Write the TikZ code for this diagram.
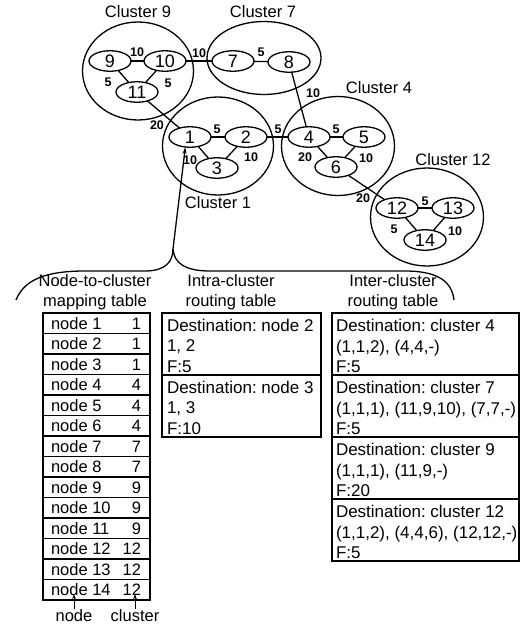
\documentclass[tikz,border=0pt]{standalone}
\usepackage{fontspec}
\setmainfont{Liberation Sans}
\usetikzlibrary{shapes.geometric,arrows.meta}
\frenchspacing

\begin{document}
\begin{tikzpicture}[x=1pt,y=-1pt,
  every node/.style={inner sep=0pt, outer sep=0pt},
  clus/.style={draw, ellipse, line width=1.3pt},
  vert/.style={draw, ellipse, line width=1.3pt, minimum width=42pt, minimum height=20.5pt,
               font=\fontsize{18}{18}\selectfont},
  wt/.style={font=\bfseries\fontsize{12.5}{12.5}\selectfont},
  clab/.style={font=\fontsize{16.5}{16.5}\selectfont},
  link/.style={line width=1.3pt},
  head/.style={align=center, font=\fontsize{16.5}{19.5}\selectfont},
  cell/.style={anchor=base west, font=\fontsize{17}{17}\selectfont},
  mcell/.style={font=\fontsize{16.5}{16.5}\selectfont},
  frame/.style={line width=1.8pt},
  rule/.style={line width=1.1pt},
  tip/.style={-{Stealth[length=7pt,width=4pt]}},
]
\useasboundingbox (0,0) rectangle (528,626);

% ---------- clusters ----------
\node[clus, minimum width=111pt, minimum height=98pt] (c9)  at (138,71)  {};
\node[clus, minimum width=114pt, minimum height=73pt] (c7)  at (264,58)  {};
\node[clus, minimum width=111pt, minimum height=98pt] (c1)  at (218,146) {};
\node[clus, minimum width=113pt, minimum height=99pt] (c4)  at (338,146) {};
\node[clus, minimum width=113pt, minimum height=98pt] (c12) at (427,217) {};

\node[clab] (lc9)  at (138,12)  {Cluster 9};
\node[clab] (lc7)  at (263,12)  {Cluster 7};
\node[clab] (lc1)  at (218,203) {Cluster 1};
\node[clab] (lc4)  at (379,88)  {Cluster 4};
\node[clab] (lc12) at (453,160) {Cluster 12};

% ---------- network nodes ----------
\node[vert] (n9)  at (110,61)  {9};
\node[vert] (n10) at (165,61)  {10};
\node[vert] (n11) at (137,92)  {11};
\node[vert] (n7)  at (233,61)  {7};
\node[vert] (n8)  at (289,62)  {8};
\node[vert] (n1)  at (190,137) {1};
\node[vert] (n2)  at (246,137) {2};
\node[vert] (n3)  at (217,168) {3};
\node[vert] (n4)  at (309,137) {4};
\node[vert] (n5)  at (364,137) {5};
\node[vert] (n6)  at (336,167) {6};
\node[vert] (n12) at (397,208) {12};
\node[vert] (n13) at (453,208) {13};
\node[vert] (n14) at (425,240) {14};

% ---------- links ----------
\draw[link] (n9) -- (n10);
\draw[link] (n9) -- (n11);
\draw[link] (n10) -- (n11);
\draw[link] (n10) -- (n7);
\draw[link] (n7) -- (n8);
\draw[link] (n11) -- (n1);
\draw[link] (n1) -- (n2);
\draw[link] (n1) -- (n3);
\draw[link] (n2) -- (n3);
\draw[link] (n2) -- (n4);
\draw[link] (n8) -- (n4);
\draw[link] (n4) -- (n5);
\draw[link] (n4) -- (n6);
\draw[link] (n5) -- (n6);
\draw[link] (n6) -- (n12);
\draw[link] (n12) -- (n13);
\draw[link] (n12) -- (n14);
\draw[link] (n13) -- (n14);

% ---------- link weights ----------
\node[wt] (w9-10)  at (137,52)  {10};
\node[wt] (w9-11)  at (108,82)  {5};
\node[wt] (w10-11) at (168,83)  {5};
\node[wt] (w10-7)  at (199,53)  {10};
\node[wt] (w7-8)   at (261,52)  {5};
\node[wt] (w11-1)  at (157,125) {20};
\node[wt] (w1-2)   at (217,129) {5};
\node[wt] (w1-3)   at (190,160) {10};
\node[wt] (w2-3)   at (251,157) {10};
\node[wt] (w2-4)   at (278,129) {5};
\node[wt] (w8-4)   at (313,93)  {10};
\node[wt] (w4-5)   at (336,129) {5};
\node[wt] (w4-6)   at (305,157) {20};
\node[wt] (w5-6)   at (366,158) {10};
\node[wt] (w6-12)  at (363,198) {20};
\node[wt] (w12-13) at (425,201) {5};
\node[wt] (w12-14) at (394,229) {5};
\node[wt] (w13-14) at (455,231) {10};

% ---------- brace from node 1 to the three tables ----------
\coordinate (bj) at (173,249);
\coordinate (bl) at (16,300);
\coordinate (br) at (454,300);
\draw[link] (bl) .. controls (24,280) and (45,271) .. (85,271) -- (145,271)
            .. controls (165,271) and (173,262) .. (bj);
\draw[link] (bj) .. controls (174,263) and (185,271) .. (210,271) -- (405,271)
            .. controls (440,271) and (452,283) .. (br);
\draw[link, tip] (bj) -- (n1.245);

\node[head] (h1) at (95,292)  {Node-to-cluster\\mapping table};
\node[head] (h2) at (231,292) {Intra-cluster\\routing table};
\node[head] (h3) at (393,292) {Inter-cluster\\routing table};

% ---------- node-to-cluster mapping table ----------
\foreach \k in {1,...,13}
  \draw[rule] (43,{313+20.5*\k}) -- (150,{313+20.5*\k});
\draw[frame] (43,313) rectangle (150,600);
\foreach \i/\c in {1/1,2/1,3/1,4/4,5/4,6/4,7/7,8/7,9/9,10/9,11/9,12/12,13/12,14/12} {
  \node[mcell, anchor=base west] (m\i) at (51,{313+20.5*\i-4.5}) {node \i};
  \node[mcell, anchor=base east] (k\i) at (141,{313+20.5*\i-4.5}) {\c};
}
\node[mcell, anchor=base] (lnode) at (74,621)  {node};
\node[mcell, anchor=base] (lclus) at (135,621) {cluster};
\coordinate (tn) at (74,594);
\coordinate (tc) at (135,594);
\draw[line width=1pt, -{Stealth[length=5pt,width=3.5pt]}] (lnode.north) -- (tn);
\draw[line width=1pt, -{Stealth[length=5pt,width=3.5pt]}] (lclus.north) -- (tc);

% ---------- intra-cluster routing table ----------
\draw[rule] (162,375) -- (321,375);
\draw[frame] (162,313) rectangle (321,437);
\foreach \b/\t in {0/{Destination: node 2,{1, 2},F:5}, 1/{Destination: node 3,{1, 3},F:10}} {
  \foreach \line [count=\l] in \t
    \node[cell] (a\b-\l) at (167,{313+62*\b+20.5*\l-2.5}) {\line};
}

% ---------- inter-cluster routing table ----------
\foreach \k in {1,2,3}
  \draw[rule] (332,{313+62*\k}) -- (519,{313+62*\k});
\draw[frame] (332,313) rectangle (519,561);
\node[cell] (e1-1) at (336,331) {Destination: cluster 4};
\node[cell] (e1-2) at (336,352) {(1,1,2), (4,4,-)};
\node[cell] (e1-3) at (336,372) {F:5};
\node[cell] (e2-1) at (336,393) {Destination: cluster 7};
\node[cell] (e2-2) at (336,414) {(1,1,1), (11,9,10), (7,7,-)};
\node[cell] (e2-3) at (336,434) {F:5};
\node[cell] (e3-1) at (336,455) {Destination: cluster 9};
\node[cell] (e3-2) at (336,476) {(1,1,1), (11,9,-)};
\node[cell] (e3-3) at (336,496) {F:20};
\node[cell] (e4-1) at (336,517) {Destination: cluster 12};
\node[cell] (e4-2) at (336,538) {(1,1,2), (4,4,6), (12,12,-)};
\node[cell] (e4-3) at (336,558) {F:5};
\end{tikzpicture}
\end{document}
